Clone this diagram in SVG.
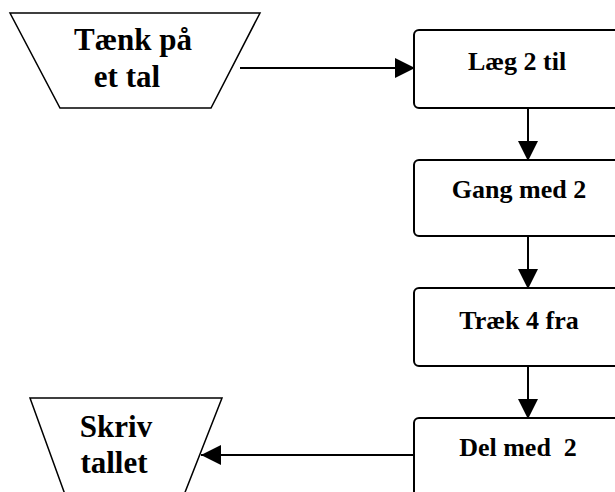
<svg xmlns="http://www.w3.org/2000/svg" width="615" height="492" viewBox="0 0 615 492">
<defs>
<style>
.io{fill:#fff;stroke:#000;stroke-width:1.5}
.box{fill:#fff;stroke:#000;stroke-width:2}
.t{font-family:"Liberation Serif","Times New Roman",serif;font-weight:bold;fill:#000;text-anchor:middle}
.big{font-size:31px}
.sm{font-size:26px}
.c{stroke:#000;stroke-width:2;fill:none}
</style>
<marker id="ah" viewBox="0 0 20 20" refX="20" refY="10" markerWidth="20" markerHeight="20" markerUnits="userSpaceOnUse" orient="auto">
<path d="M0,0 L20,10 L0,20 Z" fill="#000"/>
</marker>
</defs>
<rect width="615" height="492" fill="#fff"/>
<g id="start">
<polygon class="io" points="10,13 260,13 211,108 60,108"/>
<text class="t big" x="133" y="50">Tænk på</text>
<text class="t big" x="127" y="87">et tal</text>
</g>
<g id="n1">
<rect class="box" x="414" y="30" width="215" height="78" rx="5"/>
<text class="t sm" x="517" y="70">Læg 2 til</text>
</g>
<g id="n2">
<rect class="box" x="414" y="160" width="215" height="76" rx="5"/>
<text class="t sm" x="519" y="198">Gang med 2</text>
</g>
<g id="n3">
<rect class="box" x="414" y="288" width="215" height="78" rx="5"/>
<text class="t sm" x="519" y="329">Træk 4 fra</text>
</g>
<g id="n4">
<rect class="box" x="414" y="418" width="215" height="90" rx="5"/>
<text class="t sm" x="518" y="456" xml:space="preserve">Del med  2</text>
</g>
<g id="end">
<polygon class="io" points="30,398 222,398 182,500 67,500"/>
<text class="t big" x="116" y="437">Skriv</text>
<text class="t big" x="114" y="473">tallet</text>
</g>
<g id="connectors">
<line class="c" x1="240" y1="68" x2="415" y2="68" marker-end="url(#ah)"/>
<line class="c" x1="528" y1="108" x2="528" y2="161" marker-end="url(#ah)"/>
<line class="c" x1="528" y1="236" x2="528" y2="289" marker-end="url(#ah)"/>
<line class="c" x1="528" y1="366" x2="528" y2="419" marker-end="url(#ah)"/>
<line class="c" x1="414" y1="455" x2="201" y2="455" marker-end="url(#ah)"/>
</g>
</svg>
